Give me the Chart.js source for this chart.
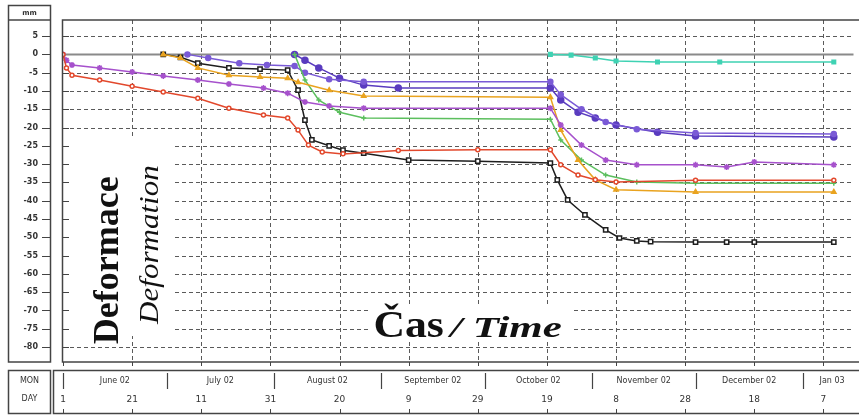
<!DOCTYPE html>
<html lang="cs">
<head>
<meta charset="UTF-8">
<title>Deformace / Deformation</title>
<script src="https://cdn.jsdelivr.net/npm/chart.js"></script>
<style>
  html, body { margin: 0; padding: 0; background: #fff; }
  #wrap { width: 859px; height: 416px; }
</style>
</head>
<body>
<div id="wrap"><canvas id="chart" width="859" height="416"></canvas></div>
<script>
// x = days since 1 June 2002, y = deformation in mm
const dayTicks = [0, 20, 40, 60, 80, 100, 120, 140, 160, 180, 200, 220];
const dayLabels = ['1', '21', '11', '31', '20', '9', '29', '19', '8', '28', '18', '7'];
const monthNames = ['June 02', 'July 02', 'August 02', 'September 02', 'October 02', 'November 02', 'December 02', 'Jan 03'];
const monthStarts = [0, 30, 61, 92, 122, 153, 183, 214, 245];
const yTicks = [-80, -75, -70, -65, -60, -55, -50, -45, -40, -35, -30, -25, -20, -15, -10, -5, 0, 5];

const seriesBlack = [[29,0],[34,-0.8],[39,-2.4],[48,-3.7],[57,-4],[65,-4.3],[68,-9.8],[70,-18],[72,-23.4],[77,-25],[81,-26.2],[87,-27],[100,-28.9],[120,-29.2],[141,-29.7],[143,-34.3],[146,-39.8],[151,-43.9],[157,-48],[161,-50.2],[166,-51],[170,-51.2],[183,-51.3],[192,-51.3],[200,-51.3],[223,-51.3]];
const seriesRed = [[0,0],[1,-3.7],[2.6,-5.7],[10.6,-7],[20,-8.7],[29,-10.3],[39,-12],[48,-14.7],[58,-16.6],[65,-17.4],[68,-20.7],[71,-24.8],[75,-26.7],[81,-27.2],[97,-26.3],[120,-26.1],[141,-26.1],[144,-30.2],[149,-33],[154,-34.3],[160,-34.9],[183,-34.4],[223,-34.4]];
const seriesPurple = [[0,0],[1,-1.6],[2.6,-2.9],[10.6,-3.7],[20,-4.8],[29,-5.9],[39,-7],[48,-8.1],[58,-9.2],[65,-10.6],[70,-13],[77,-14.1],[87,-14.7],[141,-14.7],[144,-19.3],[150,-24.8],[157,-28.9],[166,-30.2],[183,-30.2],[192,-30.8],[200,-29.4],[223,-30.2]];
const seriesViolet = [[67,0],[70,-1.6],[74,-3.7],[80,-6.5],[87,-8.4],[97,-9.2],[141,-9.2],[144,-12.5],[149,-15.8],[154,-17.4],[160,-19.3],[172,-21.3],[183,-22.3],[223,-22.6]];
const seriesViolet2 = [[36,0],[42,-1],[51,-2.4],[59,-2.9],[67,-3.2],[70,-5],[77,-6.8],[87,-7.5],[141,-7.5],[144,-11],[150,-15],[157,-18.5],[166,-20.5],[183,-21.5],[223,-21.8]];
const seriesGold = [[29,0],[34,-1],[39,-3.7],[48,-5.7],[57,-6.2],[65,-6.5],[68,-7.6],[77,-9.8],[87,-11.4],[141,-11.7],[144,-20.7],[149,-28.9],[154,-34.3],[160,-37],[183,-37.6],[223,-37.6]];
const seriesGreen = [[67,0],[70,-7],[74,-12.5],[80,-15.8],[87,-17.4],[141,-17.7],[144,-23.4],[150,-28.9],[157,-33],[166,-34.9],[183,-35.2],[223,-35.2]];
const seriesTeal = [[141,0],[147,-0.2],[154,-1],[160,-1.8],[172,-2.1],[190,-2.1],[223,-2.1]];

function pts(arr) { return arr.map(p => ({ x: p[0], y: p[1] })); }

function ds(data, color, style, fill, r) {
  return {
    data: pts(data), borderColor: color, backgroundColor: fill || color,
    pointBorderColor: color, borderWidth: 1.5, pointRadius: r || 2.5,
    pointStyle: style, tension: 0, fill: false
  };
}

const chartFrame = {
  id: 'chartFrame',
  beforeDatasetsDraw(chart) {
    const { ctx, chartArea: a, scales: { x, y } } = chart;
    ctx.save();
    // dashed grid
    ctx.strokeStyle = '#5a5a5a';
    ctx.lineWidth = 1;
    ctx.setLineDash([4, 3]);
    yTicks.forEach(v => {
      if (v === 0) return;
      const py = Math.round(y.getPixelForValue(v)) + 0.5;
      ctx.beginPath(); ctx.moveTo(a.left + 7, py); ctx.lineTo(a.right, py); ctx.stroke();
    });
    dayTicks.forEach(d => {
      if (d === 0) return;
      const px = Math.round(x.getPixelForValue(d)) + 0.5;
      ctx.beginPath(); ctx.moveTo(px, a.top); ctx.lineTo(px, a.bottom); ctx.stroke();
    });
    ctx.setLineDash([]);
    // blank areas behind the titles
    ctx.fillStyle = '#fff';
    ctx.fillRect(a.left + 7, y.getPixelForValue(-23), 102, y.getPixelForValue(-77) - y.getPixelForValue(-23));
    ctx.fillRect(x.getPixelForValue(89), y.getPixelForValue(-68.5), x.getPixelForValue(147) - x.getPixelForValue(89), y.getPixelForValue(-78) - y.getPixelForValue(-68.5));
    // small left ticks
    ctx.strokeStyle = '#444';
    yTicks.forEach(v => {
      const py = Math.round(y.getPixelForValue(v)) + 0.5;
      ctx.beginPath(); ctx.moveTo(a.left, py); ctx.lineTo(a.left + 6, py); ctx.stroke();
    });
    // zero line
    ctx.strokeStyle = '#8a8a8a';
    ctx.lineWidth = 2;
    const p0 = y.getPixelForValue(0);
    ctx.beginPath(); ctx.moveTo(a.left, p0); ctx.lineTo(a.right, p0); ctx.stroke();
    ctx.restore();
  },
  afterDraw(chart) {
    const { ctx, chartArea: a, scales: { x, y } } = chart;
    ctx.save();
    ctx.strokeStyle = '#444';
    ctx.lineWidth = 1.5;
    // chart box
    ctx.strokeRect(a.left - 0.5, a.top, a.right - a.left + 10, a.bottom - a.top);
    // y label box
    ctx.strokeRect(8.5, 5.5, 42, a.bottom - 5.5);
    ctx.beginPath(); ctx.moveTo(8.5, a.top); ctx.lineTo(50.5, a.top); ctx.stroke();
    ctx.lineWidth = 1;
    yTicks.forEach(v => {
      const py = Math.round(y.getPixelForValue(v)) + 0.5;
      ctx.beginPath(); ctx.moveTo(42, py); ctx.lineTo(50, py); ctx.stroke();
    });
    ctx.fillStyle = '#333';
    ctx.font = 'bold 7px "DejaVu Sans"';
    ctx.textAlign = 'center';
    ctx.textBaseline = 'middle';
    ctx.fillText('mm', 29.5, 13);
    // bottom box
    ctx.lineWidth = 1.5;
    ctx.strokeRect(8.5, 370.5, 42, 43);
    ctx.strokeRect(53.5, 370.5, 820, 43);
    ctx.font = '8px "DejaVu Sans"';
    ctx.fillText('MON', 29.5, 381);
    ctx.fillText('DAY', 29.5, 399);
    ctx.lineWidth = 1.2;
    monthStarts.forEach(d => {
      const px = Math.round(x.getPixelForValue(d)) + 0.5;
      if (px > a.right) return;
      ctx.beginPath(); ctx.moveTo(px, 373); ctx.lineTo(px, 389); ctx.stroke();
    });
    monthNames.forEach((m, i) => {
      const mid = (monthStarts[i] + Math.min(monthStarts[i + 1], 231)) / 2;
      ctx.fillText(m, x.getPixelForValue(mid), 381);
    });
    ctx.lineWidth = 1;
    dayTicks.forEach(d => {
      const px = Math.round(x.getPixelForValue(d)) + 0.5;
      ctx.beginPath(); ctx.moveTo(px, a.bottom); ctx.lineTo(px, a.bottom + 4); ctx.stroke();
      ctx.beginPath(); ctx.moveTo(px, 409); ctx.lineTo(px, 413); ctx.stroke();
    });
    // titles
    ctx.fillStyle = '#111';
    ctx.textBaseline = 'alphabetic';
    ctx.save();
    ctx.translate(a.left + 55, y.getPixelForValue(-56.3));
    ctx.rotate(-Math.PI / 2);
    ctx.font = 'bold 36px "Liberation Serif"';
    ctx.fillText('Deformace', 0, 0);
    ctx.restore();
    ctx.save();
    ctx.translate(a.left + 95, y.getPixelForValue(-52));
    ctx.rotate(-Math.PI / 2);
    ctx.scale(1.15, 1);
    ctx.font = 'italic 27px "Liberation Serif"';
    ctx.fillText('Deformation', 0, 0);
    ctx.restore();
    ctx.textAlign = 'left';
    const by = y.getPixelForValue(-77.3);
    ctx.save();
    ctx.translate(x.getPixelForValue(89.8), by);
    ctx.scale(1.15, 1);
    ctx.font = 'bold 38px "Liberation Serif"';
    ctx.fillText('Čas', 0, 0);
    ctx.restore();
    ctx.save();
    ctx.translate(x.getPixelForValue(112), by);
    ctx.scale(1.48, 1);
    ctx.font = 'bold italic 29px "Liberation Serif"';
    ctx.fillText('/ Time', 0, 0);
    ctx.restore();
    ctx.restore();
  }
};

new Chart(document.getElementById('chart'), {
  type: 'line',
  data: {
    datasets: [
      ds(seriesRed, '#e2482c', 'circle', '#fff', 2),
      ds(seriesPurple, '#a651cc', 'star', null, 3),
      ds(seriesGold, '#e9a31f', 'triangle', null, 2.5),
      ds(seriesGreen, '#5cbf5e', 'cross', null, 2.5),
      ds(seriesViolet2, '#7a5ad6', 'circle', null, 2.5),
      ds(seriesViolet, '#5a3cbf', 'circle', null, 3),
      ds(seriesTeal, '#3fd2b3', 'rect', null, 2.5),
      ds(seriesBlack, '#1e1e1e', 'rect', '#fff', 3)
    ]
  },
  options: {
    responsive: false,
    devicePixelRatio: 1,
    animation: false,
    layout: { padding: { left: 8, top: 20, right: 0, bottom: 0 } },
    plugins: { legend: { display: false }, tooltip: { enabled: false } },
    scales: {
      x: {
        type: 'linear', min: 0, max: 228.7,
        grid: { display: false, drawTicks: false },
        border: { display: false },
        afterBuildTicks: s => { s.ticks = dayTicks.map(v => ({ value: v })); },
        afterFit: s => { s.height = 54; },
        ticks: {
          autoSkip: false, maxRotation: 0, padding: 32,
          color: '#333', font: { family: 'DejaVu Sans', size: 9 },
          callback: v => dayLabels[dayTicks.indexOf(v)]
        }
      },
      y: {
        min: -84.1, max: 9.4,
        grid: { display: false, drawTicks: true, tickLength: 25 },
        border: { display: false },
        afterBuildTicks: s => { s.ticks = yTicks.map(v => ({ value: v })); },
        afterFit: s => { s.width = 55; },
        ticks: {
          padding: 0, color: '#333',
          font: { family: 'DejaVu Sans', size: 8, weight: 'bold' }
        }
      }
    }
  },
  plugins: [chartFrame]
});
</script>
</body>
</html>
